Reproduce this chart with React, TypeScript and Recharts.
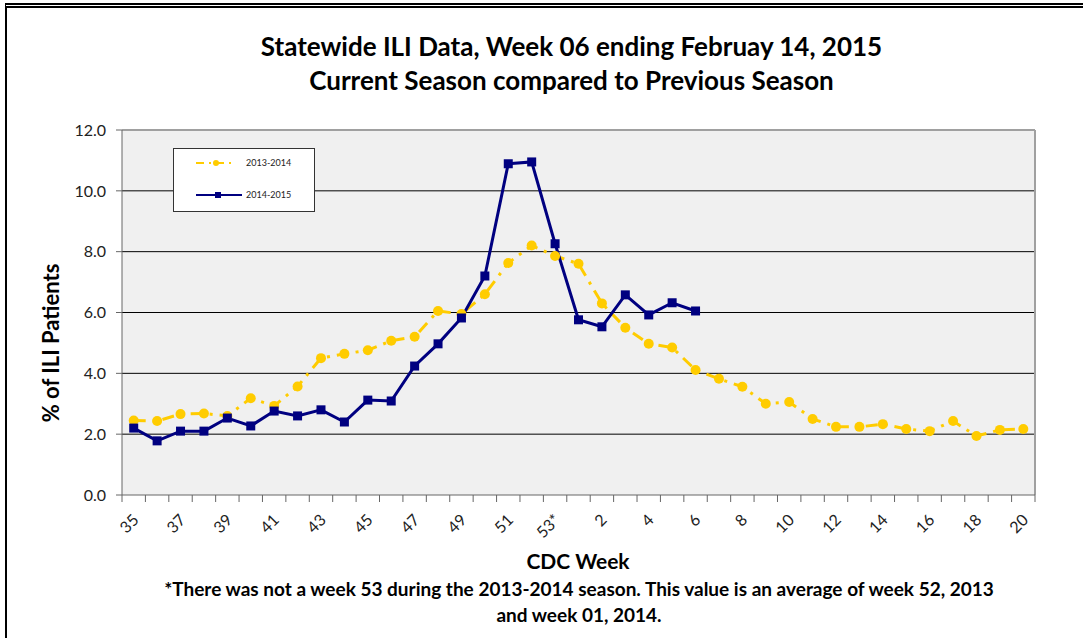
import React from 'react'
import { LineChart, Line, XAxis, YAxis, CartesianGrid, ReferenceLine } from 'recharts'

const WEEKS = [
  '35', '36', '37', '38', '39', '40', '41', '42', '43', '44', '45', '46', '47', '48', '49', '50', '51', '52', '53*',
  '1', '2', '3', '4', '5', '6', '7', '8', '9', '10', '11', '12', '13', '14', '15', '16', '17', '18', '19', '20',
]

// 2013-2014 season, % of ILI patients
const SEASON_1314 = [
  2.45, 2.43, 2.66, 2.68, 2.6, 3.18, 2.93, 3.57, 4.5, 4.64, 4.76, 5.07, 5.2, 6.05, 5.95, 6.6, 7.63, 8.2, 7.86,
  7.6, 6.3, 5.5, 4.97, 4.85, 4.11, 3.82, 3.56, 3.0, 3.06, 2.5, 2.24, 2.24, 2.33, 2.17, 2.1, 2.43, 1.94, 2.14, 2.17,
]

// 2014-2015 season, reported through week 06
const SEASON_1415: (number | null)[] = [
  2.2, 1.78, 2.1, 2.1, 2.53, 2.27, 2.76, 2.6, 2.8, 2.4, 3.12, 3.09, 4.24, 4.97, 5.82, 7.2, 10.89, 10.95, 8.26,
  5.76, 5.53, 6.58, 5.92, 6.32, 6.05, null, null, null, null, null, null, null, null, null, null, null, null, null, null,
]

const Y_TICKS = [0, 2, 4, 6, 8, 10, 12]

const GOLD = '#FFCC00'
const NAVY = '#000080'
const FONT = 'Lato, "Open Sans", sans-serif'

const data = WEEKS.map((w, i) => ({ idx: i, week: w, s1314: SEASON_1314[i], s1415: SEASON_1415[i] }))

// ticks on category boundaries (half steps) plus labels on every other category
const xTicks: number[] = []
for (let i = -0.5; i <= WEEKS.length - 0.5; i += 0.5) xTicks.push(i)

function WeekTick(props: any) {
  const { x, y, payload } = props
  const v = payload.value as number
  if (!Number.isInteger(v)) {
    return <line x1={x} x2={x} y1={y} y2={y + 7} stroke="#666" strokeWidth={1} />
  }
  if (v % 2 !== 0) return null
  const tx = x + 6
  const ty = y + 26
  return (
    <text x={tx} y={ty} textAnchor="end" fontSize={16} fill="#222" fontFamily={FONT} transform={`rotate(-45 ${tx} ${ty})`}>
      {WEEKS[v]}
    </text>
  )
}

function SquareDot(props: any) {
  const { cx, cy } = props
  if (cx == null || cy == null || props.value == null) return null
  return <rect x={cx - 4.5} y={cy - 4.5} width={9} height={9} fill={NAVY} />
}

function LegendBox() {
  return (
    <div
      style={{
        position: 'absolute', left: 173, top: 148, width: 140, height: 62, background: '#fff',
        border: '1px solid #333', fontFamily: FONT, fontSize: 9,
      }}
    >
      <svg width={140} height={62} style={{ position: 'absolute', left: 0, top: 0 }}>
        <line x1={22} x2={62} y1={14} y2={14} stroke={GOLD} strokeWidth={2} strokeDasharray="8 5 2 5" />
        <circle cx={42} cy={14} r={3} fill={GOLD} />
        <text x={72} y={17} fontSize={9} fill="#222">2013-2014</text>
        <line x1={22} x2={68} y1={46} y2={46} stroke={NAVY} strokeWidth={2} />
        <rect x={41} y={43} width={6} height={6} fill={NAVY} />
        <text x={72} y={49} fontSize={9} fill="#222">2014-2015</text>
      </svg>
    </div>
  )
}

const textBold: React.CSSProperties = { position: 'absolute', fontFamily: FONT, fontWeight: 700, color: '#000', whiteSpace: 'nowrap' }

export default function App() {
  return (
    <div style={{ position: 'absolute', left: 0, top: 0, width: 1083, height: 638, overflow: 'hidden', background: '#fff' }}>
      <div style={{ position: 'absolute', left: 5, top: 3, width: 1100, height: 700, borderTop: '5px double #000', borderLeft: '2px solid #000' }} />
      <LineChart width={1083} height={638} data={data} margin={{ top: 130, right: 48, bottom: 103, left: 62 }} style={{ position: 'absolute', left: 0, top: 0 }}>
        <CartesianGrid vertical={false} horizontalValues={[2, 4, 6, 8, 10]} stroke="#000" strokeWidth={1} fill="#f0f0f0" fillOpacity={1} />
        <ReferenceLine y={12} stroke="#a0a0a0" strokeWidth={2} />
        <ReferenceLine x={WEEKS.length - 0.5} stroke="#a0a0a0" strokeWidth={2} />
        <XAxis
          dataKey="idx"
          type="number"
          domain={[-0.5, WEEKS.length - 0.5]}
          ticks={xTicks}
          interval={0}
          tick={<WeekTick />}
          tickLine={false}
          tickSize={0}
          tickMargin={0}
          height={40}
          stroke="#666"
          allowDecimals
        />
        <YAxis
          type="number"
          domain={[0, 12]}
          ticks={Y_TICKS}
          interval={0}
          width={60}
          tickSize={6}
          tickMargin={10}
          stroke="#666"
          tickFormatter={(v: number) => v.toFixed(1)}
          tick={{ fontSize: 16, fill: '#222', fontFamily: FONT }}
        />
        <Line
          type="linear"
          dataKey="s1314"
          stroke={GOLD}
          strokeWidth={3}
          strokeDasharray="12 7 3 7"
          dot={{ r: 5, fill: GOLD, stroke: 'none' }}
          isAnimationActive={false}
        />
        <Line
          type="linear"
          dataKey="s1415"
          stroke={NAVY}
          strokeWidth={3}
          dot={<SquareDot />}
          connectNulls={false}
          isAnimationActive={false}
        />
      </LineChart>
      <LegendBox />
      <div style={{ ...textBold, left: 0, width: 1143, top: 29, fontSize: 26, textAlign: 'center', lineHeight: '34px' }}>
        Statewide ILI Data, Week 06 ending Februay 14, 2015
        <br />
        Current Season compared to Previous Season
      </div>
      <div style={{ ...textBold, left: 50, top: 343, fontSize: 22, transform: 'translate(-50%, -50%) rotate(-90deg)' }}>% of ILI Patients</div>
      <div style={{ ...textBold, left: 0, width: 1156, top: 548, fontSize: 21, textAlign: 'center' }}>CDC Week</div>
      <div style={{ ...textBold, left: 0, width: 1158, top: 576, fontSize: 19, textAlign: 'center', lineHeight: '26px' }}>
        *There was not a week 53 during the 2013-2014 season. This value is an average of week 52, 2013
        <br />
        and week 01, 2014.
      </div>
    </div>
  )
}
